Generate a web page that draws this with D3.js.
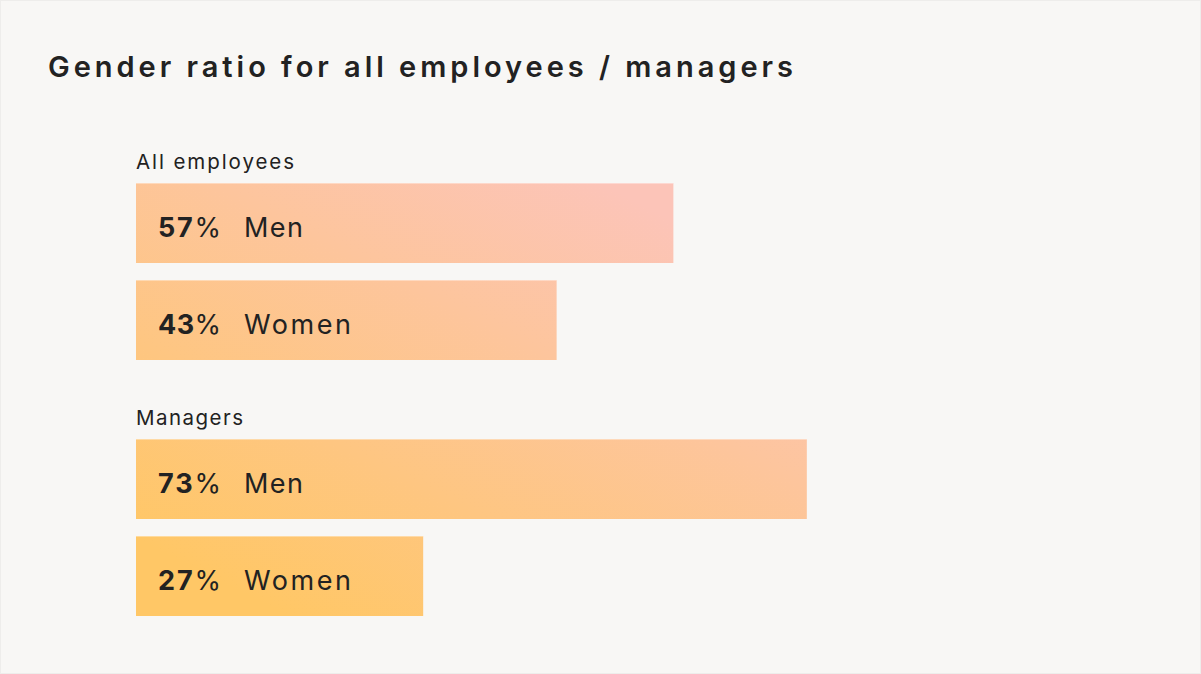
<!DOCTYPE html>
<html>
<head>
<meta charset="utf-8">
<script src="https://cdn.jsdelivr.net/npm/d3@7"></script>
<style>
  html, body { margin: 0; padding: 0; background: #F8F7F5; }
  svg { display: block; }
  text { font-family: Inter, "Noto Sans", sans-serif; fill: #222222; }
</style>
</head>
<body>
<svg id="chart" width="1201" height="674"></svg>
<script>
// ---- data ----
const title = "Gender ratio for all employees / managers";
const groups = ["All employees", "Managers"];
const genders = ["Men", "Women"];
const allEmployeesShare = [57, 43];
const managersShare = [73, 27];
const shares = [allEmployeesShare, managersShare];

// ---- layout ----
const W = 1201, H = 674;
const svg = d3.select("#chart");

svg.append("rect").attr("x", 0.5).attr("y", 0.5).attr("width", W - 1).attr("height", H - 1)
  .attr("fill", "#F8F7F5").attr("stroke", "#EEEDEB");

const defs = svg.append("defs");
const grad = defs.append("linearGradient").attr("id", "barGrad")
  .attr("gradientUnits", "userSpaceOnUse")
  .attr("x1", 1).attr("y1", 470).attr("x2", 240).attr("y2", 0);
grad.append("stop").attr("offset", 0).attr("stop-color", "#FFC766");
grad.append("stop").attr("offset", 1).attr("stop-color", "#FCC4B8");

// fitted length scale
const x = d3.scaleLinear().domain([0, 100]).range([198, 1032]);
const x0 = 136;

const groupY = d3.scaleLinear().domain([0, 1]).range([183, 439]);
const rowY = d3.scaleBand().domain(genders).range([0, 177]).paddingInner(17 / 97);

function fitWidth(sel, target) {
  const node = sel.node();
  const w = node.getComputedTextLength();
  const n = sel.text().length;
  sel.attr("letter-spacing", ((target - w) / (n - 1)).toFixed(3));
}

// title
const t = svg.append("text").attr("x", 48).attr("y", 77)
  .attr("font-size", 29).attr("font-weight", 600).text(title);
fitWidth(t, 745);

const groupLabelWidth = [158, 107];

groups.forEach((g, gi) => {
  const gy = groupY(gi);
  const lbl = svg.append("text").attr("x", 136).attr("y", gy - 14)
    .attr("font-size", 20.5).attr("font-weight", 400).text(g);
  fitWidth(lbl, groupLabelWidth[gi]);

  genders.forEach((gen, ri) => {
    const v = shares[gi][ri];
    const y = gy + rowY(gen);
    const h = rowY.bandwidth();
    svg.append("rect")
      .attr("x", x0).attr("y", y)
      .attr("width", x(v) - x0)
      .attr("height", h)
      .attr("fill", "url(#barGrad)");
    svg.append("rect")
      .attr("x", x0).attr("y", y)
      .attr("width", x(v) - x0).attr("height", 1)
      .attr("fill", "#ffffff").attr("opacity", 0.35);

    const p = svg.append("text").attr("x", 158).attr("y", y + h / 2 + 14)
      .attr("font-size", 27).attr("font-weight", 700);
    p.append("tspan").text(v);
    p.append("tspan").attr("font-weight", 400).text("%");
    fitWidth(p, 63);

    const gl = svg.append("text").attr("x", 244).attr("y", y + h / 2 + 14)
      .attr("font-size", 27).attr("font-weight", 400).text(gen);
    fitWidth(gl, gen === "Men" ? 59 : 107);
  });
});
</script>
</body>
</html>
